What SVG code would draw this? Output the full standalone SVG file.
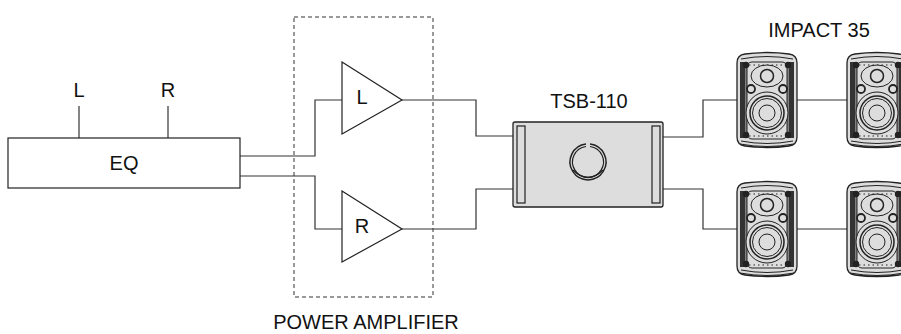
<svg xmlns="http://www.w3.org/2000/svg" width="901" height="334" viewBox="0 0 901 334">
<style>
text{font-family:"Liberation Sans",Arial,sans-serif;font-size:20px;fill:#111;text-anchor:middle}
.ln{fill:none;stroke:#333;stroke-width:1.2}
.box{fill:#fff;stroke:#222;stroke-width:1.2}
.sp{stroke:#222;stroke-width:1}
</style>
<defs>
<g id="spk">
<path d="M0,10 Q0,2 8,1 Q30,-2 52,1 Q60,2 60,10 L60,84 Q60,92 52,93 Q30,96 8,93 Q0,92 0,84 Z" fill="#ddd" stroke="#222" stroke-width="1.3"/>
<path d="M4,6 Q30,1 56,6" class="sp" fill="none"/>
<path d="M4,88 Q30,93 56,88" class="sp" fill="none"/>
<path d="M3,91 Q30,96 57,91" class="sp" fill="none"/>
<rect x="3" y="9" width="5" height="76" fill="#333"/>
<rect x="52" y="9" width="5" height="76" fill="#333"/>
<line x1="9" y1="9" x2="9" y2="85" class="sp"/>
<line x1="51" y1="9" x2="51" y2="85" class="sp"/>
<rect x="10" y="9" width="40" height="77" rx="5" fill="#ddd" class="sp"/>
<line x1="12" y1="83" x2="48" y2="83" class="sp" stroke-dasharray="1.5 3"/>
<line x1="12" y1="12" x2="48" y2="12" class="sp" stroke-dasharray="1.5 3"/>
<ellipse cx="30" cy="23" rx="16" ry="11" fill="#ddd" class="sp"/>
<circle cx="30" cy="23" r="6.5" fill="#ddd" stroke="#222" stroke-width="1.5"/>
<circle cx="14" cy="36" r="4" fill="#ddd" stroke="#222" stroke-width="1.8"/>
<circle cx="46" cy="36" r="4" fill="#ddd" stroke="#222" stroke-width="1.8"/>
<circle cx="30" cy="60" r="21" fill="#ddd" class="sp"/>
<circle cx="30" cy="60" r="17" fill="#ddd" stroke="#222" stroke-width="1.5"/>
<circle cx="30" cy="60" r="14.5" fill="#ddd" class="sp"/>
<circle cx="30" cy="60" r="8" fill="#ddd" class="sp"/>
<circle cx="9" cy="12" r="3.2" fill="#222"/>
<circle cx="51" cy="12" r="3.2" fill="#222"/>
<circle cx="9" cy="82" r="3.2" fill="#222"/>
<circle cx="51" cy="82" r="3.2" fill="#222"/>
</g>
</defs>
<rect width="901" height="334" fill="#fff"/>
<g id="connectors" class="ln">
<path d="M79,106 V138"/>
<path d="M168,106 V138"/>
<path d="M240,156 H315 V100 H342"/>
<path d="M240,176 H315 V229 H342"/>
<path d="M402,100 H476 V136 H513"/>
<path d="M402,229 H476 V189 H513"/>
<path d="M663,137 H703 V100 H738"/>
<path d="M663,189 H703 V229 H738"/>
<path d="M797,100 H847"/>
<path d="M797,229 H847"/>
</g>
<g id="power-amplifier">
<rect x="294" y="17" width="139" height="280" fill="none" stroke="#333" stroke-width="1" stroke-dasharray="4 3"/>
<text x="366" y="329">POWER AMPLIFIER</text>
</g>
<g id="eq">
<rect class="box" x="8" y="138" width="232" height="50"/>
<text x="124" y="170">EQ</text>
<text x="79" y="97">L</text>
<text x="168" y="97">R</text>
</g>
<g id="amp-l">
<path class="box" d="M342,62 L402,100 L342,134 Z"/>
<text x="362" y="104">L</text>
</g>
<g id="amp-r">
<path class="box" d="M342,191 L402,229 L342,262 Z"/>
<text x="362" y="233">R</text>
</g>
<g id="tsb-110">
<rect x="513" y="122" width="150" height="85" rx="2" fill="#ddd" stroke="#222" stroke-width="1.3"/>
<rect x="517" y="126" width="8" height="77" fill="#ddd" stroke="#222" stroke-width="1.2"/>
<rect x="652" y="126" width="8" height="77" fill="#ddd" stroke="#222" stroke-width="1.2"/>
<path d="M586,144 A18,18 0 1 0 590,144" fill="none" stroke="#222" stroke-width="1.5"/>
<path d="M586,146.5 A15.5,15.5 0 1 0 590,146.5" fill="none" stroke="#222" stroke-width="1.2"/>
<path d="M573,170 Q588,185 603,170" fill="none" stroke="#222" stroke-width="1.2"/>
<text x="589" y="108">TSB-110</text>
</g>
<g id="impact-35-label"><text x="819" y="37">IMPACT 35</text></g>
<g id="speaker-1"><use href="#spk" transform="translate(737,53)"/></g>
<g id="speaker-2"><use href="#spk" transform="translate(847,53)"/></g>
<g id="speaker-3"><use href="#spk" transform="translate(737,182)"/></g>
<g id="speaker-4"><use href="#spk" transform="translate(847,182)"/></g>
</svg>
